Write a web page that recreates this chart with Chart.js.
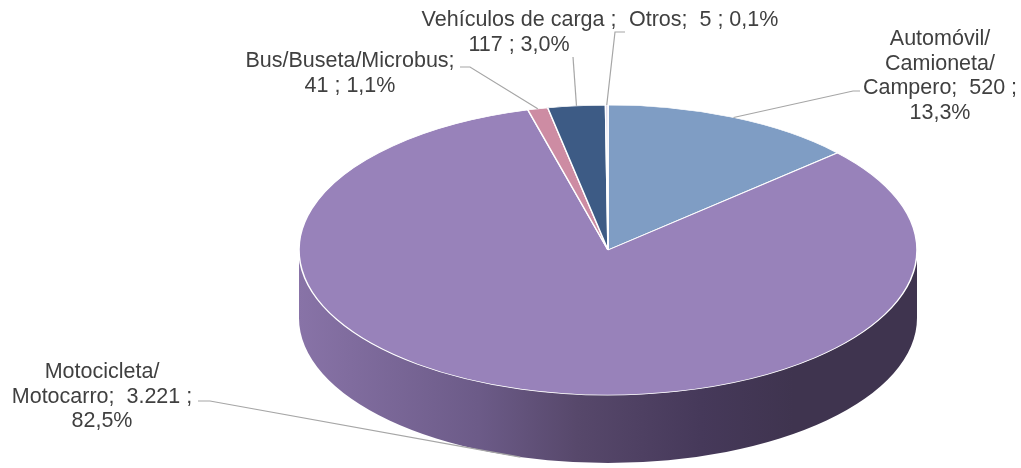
<!DOCTYPE html>
<html>
<head>
<meta charset="utf-8">
<script src="https://cdn.jsdelivr.net/npm/chart.js@4.4.0/dist/chart.umd.min.js"></script>
<style>
  body { margin: 0; background: #fff; }
  #wrap { width: 1021px; height: 468px; }
</style>
</head>
<body>
<div id="wrap"><canvas id="myChart" width="1021" height="468"></canvas></div>
<script>
// data
const categories = ['Automóvil/ Camioneta/ Campero', 'Motocicleta/ Motocarro', 'Bus/Buseta/Microbus', 'Vehículos de carga', 'Otros'];
const values = [520, 3221, 41, 117, 5];
const colors = ['#7F9DC4', '#9882BA', '#CD8CA3', '#3D5B85', '#CFC6E0'];
const sideColors = ['#4F6485', '#6A5A86', '#8A5A6C', '#283C58', '#8E84A0'];

const total = values.reduce((a, b) => a + b, 0);
function fmtNum(v) { return String(v).replace(/\B(?=(\d{3})+(?!\d))/g, '.'); }
function fmtPct(v) { return (v / total * 100).toFixed(1).replace('.', ',') + '%'; }

const labelLines = [
  ['Automóvil/', 'Camioneta/', 'Campero;  ' + fmtNum(values[0]) + ' ;', fmtPct(values[0])],
  ['Motocicleta/', 'Motocarro;  ' + fmtNum(values[1]) + ' ;', fmtPct(values[1])],
  ['Bus/Buseta/Microbus;', fmtNum(values[2]) + ' ; ' + fmtPct(values[2])],
  ['Vehículos de carga ;', fmtNum(values[3]) + ' ; ' + fmtPct(values[3])],
  ['Otros;  ' + fmtNum(values[4]) + ' ; ' + fmtPct(values[4])]
];

// layout of the 3d pie and its labels
const CX = 608, CY = 250, RX = 309, RY = 145, DEPTH = 68;
const labelLayout = [
  { x: 940, y: 45, align: 'center', elbow: [853, 91], tail: [860, 91] },
  { x: 102, y: 378, align: 'center', elbow: [210, 401], tail: [198, 401], side: true },
  { x: 350, y: 67, align: 'center', elbow: [470, 67], tail: [460, 67] },
  { x: 519, y: 26, align: 'center', elbow: [573, 57], tail: null },
  { x: 629, y: 26, align: 'left', elbow: [615, 32], tail: [625, 32] }
];

const pie3d = {
  id: 'pie3d',
  beforeDatasetsDraw(chart) {
    const ctx = chart.ctx;
    const arcs = chart.getDatasetMeta(0).data;
    // side wall, only the front half shows
    arcs.forEach(function (arc, i) {
      const s = Math.max(arc.startAngle, 0);
      const e = Math.min(arc.endAngle, Math.PI);
      if (s >= e) return;
      let fill = sideColors[i];
      if (i == 1) {
        const g = ctx.createLinearGradient(CX - RX, 0, CX + RX, 0);
        g.addColorStop(0, '#8873A7');
        g.addColorStop(0.29, '#6C5B88');
        g.addColorStop(0.45, '#57486B');
        g.addColorStop(0.65, '#46395A');
        g.addColorStop(0.8, '#3F344F');
        g.addColorStop(1, '#3F344F');
        fill = g;
      }
      ctx.beginPath();
      ctx.ellipse(CX, CY, RX, RY, 0, s, e);
      ctx.lineTo(CX + RX * Math.cos(e), CY + DEPTH + RY * Math.sin(e));
      ctx.ellipse(CX, CY + DEPTH, RX, RY, 0, e, s, true);
      ctx.closePath();
      ctx.fillStyle = fill;
      ctx.fill();
    });
    // squash the top face
    const a0 = arcs[0];
    const r = a0.outerRadius;
    ctx.save();
    ctx.translate(CX, CY);
    ctx.scale(RX / r, RY / r);
    ctx.translate(-a0.x, -a0.y);
  },
  afterDatasetsDraw(chart) {
    chart.ctx.restore();
  },
  afterDraw(chart) {
    const ctx = chart.ctx;
    const arcs = chart.getDatasetMeta(0).data;
    ctx.save();
    ctx.strokeStyle = '#A6A6A6';
    ctx.lineWidth = 1.2;
    arcs.forEach(function (arc, i) {
      const L = labelLayout[i];
      const mid = (arc.startAngle + arc.endAngle) / 2;
      const px = CX + RX * Math.cos(mid);
      const py = CY + RY * Math.sin(mid) + (L.side ? DEPTH : 0);
      ctx.beginPath();
      ctx.moveTo(px, py);
      ctx.lineTo(L.elbow[0], L.elbow[1]);
      if (L.tail) ctx.lineTo(L.tail[0], L.tail[1]);
      ctx.stroke();
    });
    ctx.fillStyle = '#404040';
    ctx.font = '21.5px "Liberation Sans", Arial, sans-serif';
    ctx.textBaseline = 'alphabetic';
    labelLines.forEach(function (lines, i) {
      const L = labelLayout[i];
      ctx.textAlign = L.align;
      lines.forEach(function (t, k) {
        ctx.fillText(t, L.x, L.y + k * 24.5);
      });
    });
    ctx.restore();
  }
};

const chart = new Chart(document.getElementById('myChart'), {
  type: 'pie',
  data: {
    labels: categories,
    datasets: [{
      data: values,
      backgroundColor: colors,
      borderColor: '#FFFFFF',
      borderWidth: 1.2,
      clip: false
    }]
  },
  options: {
    responsive: false,
    animation: false,
    events: [],
    plugins: {
      legend: { display: false },
      tooltip: { enabled: false }
    }
  },
  plugins: [pie3d]
});
</script>
</body>
</html>
